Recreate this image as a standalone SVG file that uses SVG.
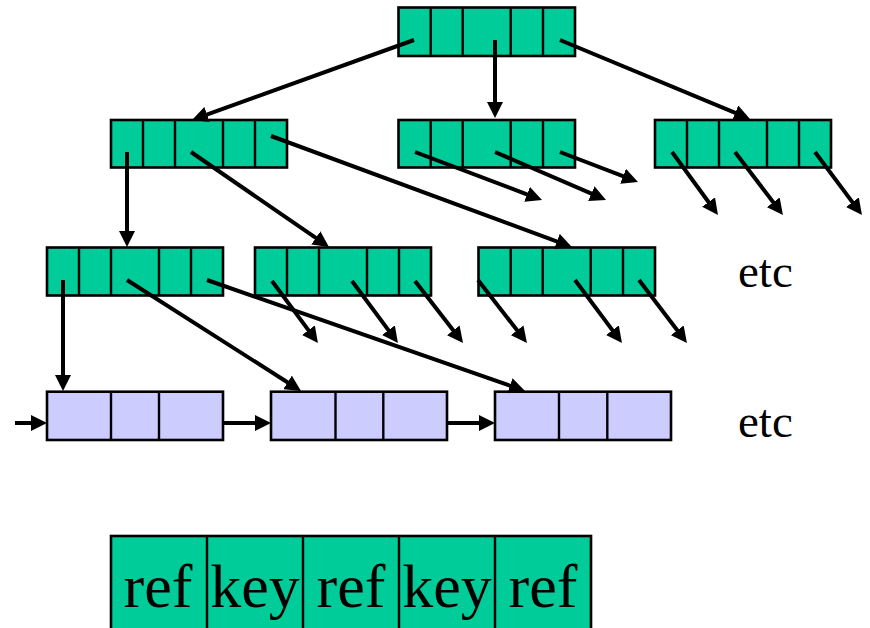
<svg xmlns="http://www.w3.org/2000/svg" width="870" height="628" viewBox="0 0 870 628">
<defs>
<style>
.g{fill:#00CC99;stroke:#000;stroke-width:2.6}
.p{fill:#CCCCFF;stroke:#000;stroke-width:2.6}
.d{fill:none;stroke:#000;stroke-width:2.4}
.c line{stroke:#000;stroke-width:4;marker-end:url(#ah)}
.t{font-family:'Liberation Serif','Times New Roman',serif;fill:#000}
</style>
<marker id="ah" markerUnits="userSpaceOnUse" markerWidth="16" markerHeight="16" refX="4" refY="8" orient="auto" viewBox="0 0 16 16">
<path d="M0,0 L16,8 L0,16 z" fill="#000"/>
</marker>
</defs>
<rect width="870" height="628" fill="#fff"/>

<g id="root">
<rect class="g" x="398.5" y="7.5" width="176.5" height="48.5"/>
<path class="d" d="M430.7,7.5V56M462.7,7.5V56M510.7,7.5V56M543,7.5V56"/>
</g>
<g id="l2a">
<rect class="g" x="111" y="120" width="176" height="47.5"/>
<path class="d" d="M143,120V167.5M175,120V167.5M223,120V167.5M255,120V167.5"/>
</g>
<g id="l2b">
<rect class="g" x="398.5" y="120" width="176.5" height="47.5"/>
<path class="d" d="M430.7,120V167.5M462.7,120V167.5M510.7,120V167.5M543,120V167.5"/>
</g>
<g id="l2c">
<rect class="g" x="655" y="120" width="176" height="47.5"/>
<path class="d" d="M687,120V167.5M719,120V167.5M767,120V167.5M799,120V167.5"/>
</g>
<g id="l3a">
<rect class="g" x="47" y="247.5" width="176" height="48"/>
<path class="d" d="M79,247.5V295.5M111,247.5V295.5M159,247.5V295.5M191,247.5V295.5"/>
</g>
<g id="l3b">
<rect class="g" x="255" y="247.5" width="176" height="48"/>
<path class="d" d="M287,247.5V295.5M319,247.5V295.5M367,247.5V295.5M399,247.5V295.5"/>
</g>
<g id="l3c">
<rect class="g" x="478.5" y="247.5" width="176.5" height="48"/>
<path class="d" d="M510.7,247.5V295.5M542.7,247.5V295.5M590.7,247.5V295.5M623,247.5V295.5"/>
</g>
<g id="leaf1">
<rect class="p" x="47" y="391.7" width="176" height="48.3"/>
<path class="d" d="M111,391.7V440M159,391.7V440"/>
</g>
<g id="leaf2">
<rect class="p" x="271" y="391.7" width="176" height="48.3"/>
<path class="d" d="M335.5,391.7V440M383.3,391.7V440"/>
</g>
<g id="leaf3">
<rect class="p" x="495" y="391.7" width="176" height="48.3"/>
<path class="d" d="M559,391.7V440M607.3,391.7V440"/>
</g>

<g id="etc1"><text class="t" font-family="Liberation Serif, serif" x="738" y="286.7" font-size="47">etc</text></g>
<g id="etc2"><text class="t" font-family="Liberation Serif, serif" x="738" y="436.7" font-size="47">etc</text></g>

<g id="legend">
<rect class="g" x="111" y="536" width="480" height="100"/>
<path class="d" d="M207,536V630M303,536V630M399,536V630M495,536V630"/>
<g class="t" font-family="Liberation Serif, serif" font-size="62" text-anchor="middle">
<text x="158" y="606.7">ref</text>
<text x="255" y="606.7">key</text>
<text x="351" y="606.7">ref</text>
<text x="447" y="606.7">key</text>
<text x="543" y="606.7">ref</text>
</g>
</g>

<g id="connectors" class="c">
<line x1="414" y1="40" x2="203.3" y2="115.9"/>
<line x1="495" y1="40" x2="495" y2="106"/>
<line x1="560" y1="40" x2="738.9" y2="114.4"/>
<line x1="127" y1="152" x2="127" y2="235"/>
<line x1="191" y1="152" x2="319.1" y2="240.2"/>
<line x1="271" y1="136" x2="560.7" y2="242.8"/>
<line x1="415" y1="152" x2="530.8" y2="195.8"/>
<line x1="495" y1="152" x2="595" y2="195.2"/>
<line x1="560" y1="152" x2="626.8" y2="177.7"/>
<line x1="672" y1="152" x2="710.9" y2="205.3"/>
<line x1="735" y1="152" x2="775.7" y2="205.5"/>
<line x1="815" y1="152" x2="854.8" y2="205.4"/>
<line x1="63" y1="280" x2="63" y2="379"/>
<line x1="127" y1="280" x2="290.9" y2="384.5"/>
<line x1="207" y1="280" x2="513.7" y2="387"/>
<line x1="272" y1="281" x2="310.8" y2="333.4"/>
<line x1="352" y1="281" x2="390.8" y2="333.4"/>
<line x1="415" y1="281" x2="455.7" y2="333.5"/>
<line x1="478" y1="280" x2="519.6" y2="333.5"/>
<line x1="575" y1="280" x2="614.8" y2="333.4"/>
<line x1="639" y1="280" x2="679.7" y2="333.5"/>
<line x1="15" y1="423" x2="35" y2="423"/>
<line x1="223" y1="423" x2="259" y2="423"/>
<line x1="447" y1="423" x2="483" y2="423"/>
</g>
</svg>
